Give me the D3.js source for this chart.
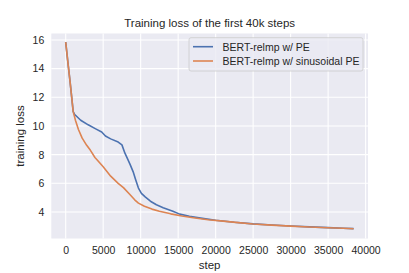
<!DOCTYPE html>
<html>
<head>
<meta charset="utf-8">
<script src="https://cdn.jsdelivr.net/npm/d3@7"></script>
<style>
  body { margin: 0; background: #fff; }
  text { font-family: "Liberation Sans", Arial, sans-serif; fill: #262626; }
</style>
</head>
<body>
<div id="plot1"></div>
<script>
// data
var seriesNames = ["BERT-relmp w/ PE", "BERT-relmp w/ sinusoidal PE"];
var colors = ["#4c72b0", "#dd8452"];

var stepsPE = [0, 300, 600, 1000, 1200, 2000, 3000, 4000, 4800, 5300, 6000, 7000, 7500, 7900, 8300, 8600, 9000, 9300, 9700, 10100, 10600, 11300, 12100, 13000, 14300, 15200, 16500, 18000, 20000, 22500, 25000, 27500, 30000, 32500, 35000, 37000, 38400];
var lossPE = [15.85, 14.4, 13.0, 11.0, 10.8, 10.4, 10.08, 9.8, 9.58, 9.3, 9.1, 8.88, 8.68, 8.1, 7.65, 7.3, 6.8, 6.3, 5.67, 5.3, 5.05, 4.75, 4.5, 4.3, 4.05, 3.85, 3.7, 3.57, 3.42, 3.28, 3.17, 3.09, 3.02, 2.96, 2.91, 2.86, 2.84];

var stepsSin = [0, 300, 600, 1000, 1300, 1700, 2200, 2800, 3300, 3900, 4500, 5000, 6000, 7000, 7700, 8500, 9200, 9700, 10500, 11500, 12500, 14000, 15500, 17000, 19000, 21000, 23000, 25000, 27500, 30000, 32500, 35000, 37000, 38400];
var lossSin = [15.85, 14.4, 13.0, 11.0, 10.4, 9.75, 9.15, 8.65, 8.3, 7.8, 7.45, 7.15, 6.5, 6.0, 5.7, 5.25, 4.85, 4.62, 4.4, 4.2, 4.05, 3.87, 3.72, 3.6, 3.46, 3.36, 3.26, 3.16, 3.08, 3.01, 2.95, 2.9, 2.86, 2.83];

var xTicks = [0, 5000, 10000, 15000, 20000, 25000, 30000, 35000, 40000];
var yTicks = [4, 6, 8, 10, 12, 14, 16];

var W = 409, H = 273;
var margin = {t: 33.5, r: 41, b: 34.5, l: 51.3};
var width = W - margin.l - margin.r,
    height = H - margin.t - margin.b;

var svg = d3.select('#plot1')
    .append('svg')
    .attr('width', W)
    .attr('height', H);

var plot = svg.append('g').attr('transform', 'translate(' + margin.l + ',' + margin.t + ')');

// matplotlib style 5% margins
var x = d3.scaleLinear().domain([-1920, 40320]).range([0, width]);
var y = d3.scaleLinear().domain([2.15, 16.45]).range([height, 0]);

plot.append('rect')
    .attr('width', width)
    .attr('height', height)
    .style('fill', '#eaeaf2');

// grid
plot.append('g').selectAll('line').data(xTicks).enter().append('line')
    .attr('x1', function(d){return x(d)}).attr('x2', function(d){return x(d)})
    .attr('y1', 0).attr('y2', height)
    .style('stroke', '#fff').style('stroke-width', 1.1);
plot.append('g').selectAll('line').data(yTicks).enter().append('line')
    .attr('y1', function(d){return y(d)}).attr('y2', function(d){return y(d)})
    .attr('x1', 0).attr('x2', width)
    .style('stroke', '#fff').style('stroke-width', 1.1);

// axes (no tick marks, seaborn darkgrid)
var xAxis = plot.append('g')
    .attr('transform', 'translate(0,' + height + ')')
    .call(d3.axisBottom(x).tickValues(xTicks).tickSize(0).tickPadding(8).tickFormat(d3.format('d')));
var yAxis = plot.append('g')
    .call(d3.axisLeft(y).tickValues(yTicks).tickSize(0).tickPadding(7).tickFormat(d3.format('d')));
[xAxis, yAxis].forEach(function(a){
    a.select('.domain').remove();
    a.selectAll('text').style('font-size', '10.5px').style('fill', '#262626')
        .style('font-family', '"Liberation Sans", Arial, sans-serif');
});

// lines
var line = d3.line()
    .x(function(d){return x(d[0])})
    .y(function(d){return y(d[1])});

var series = [
    d3.zip(stepsPE, lossPE),
    d3.zip(stepsSin, lossSin)
];

plot.append('g').selectAll('path').data(series).enter().append('path')
    .attr('d', line)
    .style('fill', 'none')
    .style('stroke', function(d, i){return colors[i]})
    .style('stroke-width', 1.6)
    .style('stroke-linejoin', 'round');

// title and labels
svg.append('text')
    .attr('x', margin.l + width / 2).attr('y', 27)
    .attr('text-anchor', 'middle')
    .style('font-size', '11.5px')
    .text('Training loss of the first 40k steps');

svg.append('text')
    .attr('x', margin.l + width / 2).attr('y', 269)
    .attr('text-anchor', 'middle')
    .style('font-size', '11.5px')
    .text('step');

svg.append('text')
    .attr('transform', 'translate(24,' + (margin.t + height / 2) + ') rotate(-90)')
    .attr('text-anchor', 'middle')
    .style('font-size', '11.5px')
    .text('training loss');

// legend
var legend = svg.append('g').attr('transform', 'translate(189,37.7)');
legend.append('rect')
    .attr('width', 174).attr('height', 33.3).attr('rx', 2)
    .style('fill', '#eaeaf2').style('fill-opacity', 0.8)
    .style('stroke', '#cccccc').style('stroke-width', 0.8);
var entry = legend.selectAll('.entry').data(seriesNames).enter().append('g')
    .attr('class', 'entry')
    .attr('transform', function(d, i){return 'translate(0,' + (9 + i * 14.3) + ')'});
entry.append('line')
    .attr('x1', 4).attr('x2', 24)
    .style('stroke', function(d, i){return colors[i]})
    .style('stroke-width', 1.6);
entry.append('text')
    .attr('x', 33.5).attr('y', 4)
    .style('font-size', '10.5px')
    .text(function(d){return d});
</script>
</body>
</html>
